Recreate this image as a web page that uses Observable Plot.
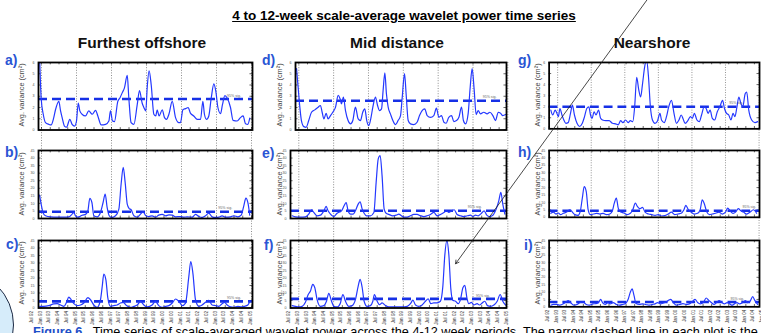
<!DOCTYPE html>
<html><head><meta charset="utf-8">
<script src="https://cdn.jsdelivr.net/npm/d3@7"></script>
<script src="https://cdn.jsdelivr.net/npm/@observablehq/plot@0.6"></script>
<style>
html,body{margin:0;padding:0;background:#fff;}
body{width:761px;height:333px;overflow:hidden;position:relative;font-family:"Liberation Sans",Arial,sans-serif;}
.abs{position:absolute;white-space:nowrap;}
.title{left:0;width:808px;top:8px;text-align:center;font-weight:bold;font-size:13.5px;text-decoration:underline;color:#000;}
.coltitle{font-weight:bold;font-size:15.5px;color:#111;transform:translateX(-50%);top:34px;}
.plabel{font-weight:bold;font-size:14px;line-height:14px;color:#2a55d4;}
.ylab{font-size:7.3px;color:#444;transform:translate(-50%,-50%) rotate(-90deg);}
.caption{left:33px;top:325px;font-size:12.7px;line-height:14px;color:#000;}
.caption b{color:#1e4fc8;}
.circle{left:-98px;top:269px;width:112px;height:112px;border-radius:50%;background:#d6ecfa;border:1px solid #1c2a44;box-sizing:border-box;}
</style></head><body>
<div class="abs circle"></div>
<div class="abs title">4 to 12-week scale-average wavelet power time series</div>
<div class="abs coltitle" style="left:142px">Furthest offshore</div>
<div class="abs coltitle" style="left:397px">Mid distance</div>
<div class="abs coltitle" style="left:652px">Nearshore</div>
<div class="abs caption"><b>Figure 6</b> . Time series of scale-averaged wavelet power across the 4-12 week periods. The narrow dashed line in each plot is the</div>
<div id="root"></div>
<script>
// ---------------- DATA ----------------
const panelIds = ["a","b","c","d","e","f","g","h","i"];
const gridYears = [1993,1995,1997,1999,2001,2003,2005];
const tickYears = [1992.5,1993,1993.5,1994,1994.5,1995,1995.5,1996,1996.5,1997,1997.5,1998,1998.5,1999,1999.5,2000,2000.5,2001,2001.5,2002,2002.5,2003,2003.5,2004,2004.5,2005];
const tickLabels = ["Jul 92","Jan 93","Jul 93","Jan 94","Jul 94","Jan 95","Jul 95","Jan 96","Jul 96","Jan 97","Jul 97","Jan 98","Jul 98","Jan 99","Jul 99","Jan 00","Jul 00","Jan 01","Jul 01","Jan 02","Jul 02","Jan 03","Jul 03","Jan 04","Jul 04","Jan 05"];
const yTicksSmall = [0,1,2,3,4,5,6];
const yTicksLarge = [0,5,10,15,20,25,30,35,40,45];
const yMaxes = [6,45,45,6,45,45,6,45,45];
const sigLevels = [2.75,4.5,4.4,2.6,5.1,6.1,2.0,4.4,3.3];
const sigLabelYears = [2004.0,2003.5,2004.0,2003.95,2003.1,2003.57,2003.43,2004.2,2003.5];
const sigLabel = "95% sig.";
const yLabel = "Avg. variance (cm\u00B2)";
const arrowFrom = [2013.9, 220];
const arrowTo = [2002.0, 29.5];

const panelA = [[1992.89,6.5],[1992.98,2.85],[1993.10,1.4],[1993.23,0.65],[1993.42,0.5],[1993.55,0.45],[1993.70,1.1],[1993.80,1.8],[1993.99,2.55],[1994.09,1.7],[1994.18,1.1],[1994.31,0.35],[1994.43,0.25],[1994.62,0.95],[1994.75,0.5],[1994.89,0.35],[1995.00,0.8],[1995.10,2.4],[1995.19,1.7],[1995.32,1.4],[1995.51,1.25],[1995.70,1.7],[1995.90,1.4],[1996.09,1.75],[1996.22,1.25],[1996.41,0.45],[1996.66,0.5],[1996.85,0.8],[1996.94,1.7],[1997.06,0.8],[1997.17,0.75],[1997.36,2.55],[1997.48,2.85],[1997.61,3.3],[1997.74,3.75],[1997.90,4.85],[1997.99,2.85],[1998.12,0.65],[1998.28,0.5],[1998.47,2.25],[1998.60,3.5],[1998.75,2.4],[1998.85,2.0],[1998.96,1.7],[1999.04,3.75],[1999.15,5.25],[1999.27,4.0],[1999.42,1.4],[1999.53,1.25],[1999.61,1.8],[1999.72,1.25],[1999.90,1.8],[2000.03,1.1],[2000.14,0.95],[2000.28,1.4],[2000.47,2.55],[2000.66,1.1],[2000.85,0.65],[2000.94,0.65],[2001.08,1.8],[2001.23,1.9],[2001.38,2.0],[2001.51,1.5],[2001.70,1.25],[2001.90,0.95],[2002.09,0.95],[2002.22,2.55],[2002.31,1.4],[2002.43,0.95],[2002.56,1.25],[2002.70,2.85],[2002.85,4.1],[2002.96,3.45],[2003.08,2.0],[2003.23,1.45],[2003.34,2.25],[2003.48,3.05],[2003.61,2.85],[2003.80,2.0],[2003.95,0.85],[2004.18,0.8],[2004.37,1.1],[2004.52,1.25],[2004.66,0.55],[2004.79,0.5],[2004.90,1.05]];
const panelB = [[1992.89,15.5],[1992.98,9.5],[1993.10,3.5],[1993.23,1.8],[1993.51,1.1],[1993.90,0.9],[1994.28,0.9],[1994.56,1.1],[1994.75,2.9],[1994.85,4.0],[1994.94,1.8],[1995.08,0.9],[1995.19,1.3],[1995.32,2.2],[1995.51,2.7],[1995.65,5.1],[1995.76,13.3],[1995.88,10.6],[1995.99,1.8],[1996.18,1.1],[1996.37,4.0],[1996.52,10.6],[1996.64,16.2],[1996.75,7.3],[1996.87,1.8],[1997.00,0.7],[1997.23,1.8],[1997.42,6.2],[1997.55,22.8],[1997.67,33.9],[1997.78,23.9],[1997.90,9.5],[1998.01,6.6],[1998.12,5.8],[1998.28,1.8],[1998.47,0.9],[1998.66,2.9],[1998.81,4.4],[1998.96,1.8],[1999.13,1.3],[1999.32,1.8],[1999.51,0.9],[1999.70,2.2],[1999.90,2.7],[2000.09,1.8],[2000.28,2.4],[2000.47,2.2],[2000.66,1.1],[2000.94,1.3],[2001.13,0.9],[2001.32,1.1],[2001.61,0.9],[2001.80,2.7],[2001.99,1.3],[2002.18,0.7],[2002.37,1.8],[2002.56,3.5],[2002.75,1.1],[2002.94,0.7],[2003.13,0.9],[2003.32,1.8],[2003.51,0.9],[2003.80,1.1],[2003.99,1.8],[2004.22,1.1],[2004.41,2.2],[2004.56,8.4],[2004.68,13.5],[2004.79,10.6],[2004.90,2.2]];
const panelC = [[1992.89,1.1],[1993.13,1.1],[1993.42,1.6],[1993.70,2.7],[1993.90,2.9],[1994.09,2.0],[1994.28,1.1],[1994.43,3.8],[1994.56,7.3],[1994.70,5.5],[1994.85,2.9],[1995.04,1.6],[1995.23,2.0],[1995.42,3.3],[1995.65,6.9],[1995.80,5.5],[1995.99,2.0],[1996.18,0.4],[1996.37,5.5],[1996.47,14.4],[1996.56,22.6],[1996.68,18.8],[1996.79,6.7],[1996.94,1.1],[1997.13,1.6],[1997.32,2.0],[1997.51,3.3],[1997.67,3.8],[1997.86,1.6],[1998.09,0.4],[1998.28,1.1],[1998.47,2.0],[1998.66,4.4],[1998.85,2.0],[1999.04,0.7],[1999.32,2.0],[1999.51,4.4],[1999.70,1.6],[1999.90,0.4],[2000.09,1.1],[2000.28,1.6],[2000.47,3.3],[2000.66,6.0],[2000.85,4.4],[2001.04,1.6],[2001.23,3.3],[2001.42,21.1],[2001.53,31.0],[2001.65,23.3],[2001.80,5.5],[2001.99,1.1],[2002.18,2.0],[2002.37,3.8],[2002.56,5.1],[2002.75,2.0],[2002.94,1.6],[2003.13,1.1],[2003.32,2.9],[2003.46,3.8],[2003.61,2.0],[2003.80,0.7],[2003.99,0.4],[2004.22,1.1],[2004.41,0.7],[2004.60,1.1],[2004.79,2.0],[2004.90,4.4]];
const panelD = [[1992.87,5.46],[1992.96,3.82],[1993.06,2.03],[1993.15,0.84],[1993.29,0.3],[1993.42,0.24],[1993.57,0.84],[1993.73,1.58],[1993.92,1.79],[1994.11,2.03],[1994.24,2.18],[1994.34,1.58],[1994.44,0.99],[1994.57,1.49],[1994.68,0.99],[1994.82,1.28],[1994.95,1.58],[1995.11,2.03],[1995.26,3.07],[1995.37,2.78],[1995.45,2.33],[1995.56,2.93],[1995.68,1.73],[1995.83,0.84],[1995.97,0.54],[1996.10,0.84],[1996.25,2.03],[1996.41,0.99],[1996.54,0.84],[1996.67,1.58],[1996.79,1.88],[1996.90,0.84],[1997.02,0.39],[1997.13,0.99],[1997.25,2.03],[1997.40,2.93],[1997.52,2.18],[1997.63,1.73],[1997.75,1.88],[1997.84,3.52],[1997.94,5.07],[1998.03,3.22],[1998.13,2.03],[1998.26,1.43],[1998.40,0.84],[1998.55,0.48],[1998.70,0.84],[1998.84,1.28],[1998.93,2.78],[1999.07,5.01],[1999.16,3.22],[1999.28,0.84],[1999.41,0.54],[1999.60,0.48],[1999.79,0.69],[1999.93,1.28],[2000.08,1.73],[2000.23,1.88],[2000.37,1.28],[2000.56,1.13],[2000.75,1.28],[2000.90,1.94],[2001.04,1.13],[2001.19,1.28],[2001.33,0.69],[2001.46,0.6],[2001.61,1.13],[2001.77,1.28],[2001.90,0.75],[2002.05,0.84],[2002.19,1.13],[2002.34,2.03],[2002.45,0.84],[2002.57,0.54],[2002.72,1.43],[2002.84,3.82],[2002.95,5.46],[2003.07,3.52],[2003.18,1.37],[2003.30,1.73],[2003.43,1.43],[2003.62,1.58],[2003.81,1.43],[2003.97,1.58],[2004.14,1.28],[2004.29,0.84],[2004.45,1.58],[2004.58,1.49],[2004.71,1.28],[2004.87,1.37]];
const panelE = [[1992.62,1.8],[1992.81,1.1],[1993.10,0.9],[1993.38,1.1],[1993.57,2.9],[1993.73,5.8],[1993.86,4.0],[1994.05,1.8],[1994.24,2.2],[1994.44,5.1],[1994.57,8.0],[1994.68,5.1],[1994.88,2.2],[1995.01,1.3],[1995.20,3.5],[1995.45,5.1],[1995.60,8.4],[1995.72,10.6],[1995.83,5.1],[1995.97,2.9],[1996.12,2.9],[1996.25,5.1],[1996.41,9.5],[1996.52,11.1],[1996.64,6.2],[1996.75,3.5],[1996.89,1.8],[1997.11,1.8],[1997.31,4.0],[1997.44,23.9],[1997.56,39.5],[1997.67,41.7],[1997.78,28.4],[1997.90,6.2],[1998.01,3.5],[1998.17,2.7],[1998.40,1.8],[1998.59,2.2],[1998.74,2.9],[1998.89,1.8],[1999.03,0.9],[1999.22,0.9],[1999.41,1.8],[1999.60,2.7],[1999.79,2.7],[1999.99,1.8],[2000.18,1.3],[2000.37,1.8],[2000.56,2.7],[2000.75,4.0],[2000.94,1.8],[2001.13,2.7],[2001.33,4.0],[2001.48,5.1],[2001.61,4.0],[2001.77,5.1],[2001.92,5.8],[2002.09,2.7],[2002.28,1.8],[2002.47,1.3],[2002.67,1.8],[2002.86,2.2],[2002.99,1.3],[2003.14,2.2],[2003.30,1.8],[2003.49,3.5],[2003.64,5.1],[2003.79,2.2],[2003.95,1.3],[2004.14,2.2],[2004.33,6.2],[2004.48,11.7],[2004.60,17.3],[2004.71,9.5],[2004.83,2.9]];
const panelF = [[1992.62,1.6],[1992.81,1.1],[1993.00,0.7],[1993.19,1.1],[1993.38,3.8],[1993.54,9.0],[1993.67,11.3],[1993.80,15.8],[1993.92,13.5],[1994.05,5.6],[1994.24,1.1],[1994.44,1.6],[1994.59,4.5],[1994.72,9.7],[1994.88,4.5],[1995.01,1.1],[1995.20,0.7],[1995.39,3.4],[1995.53,9.0],[1995.68,4.5],[1995.87,1.1],[1996.06,1.6],[1996.25,5.6],[1996.41,14.6],[1996.52,19.1],[1996.64,13.5],[1996.75,4.5],[1996.92,1.1],[1997.11,1.6],[1997.25,4.5],[1997.34,9.0],[1997.50,4.5],[1997.63,2.2],[1997.78,3.4],[1997.98,1.6],[1998.17,0.7],[1998.55,0.7],[1998.93,0.7],[1999.22,1.1],[1999.41,2.9],[1999.55,5.2],[1999.70,2.0],[1999.89,1.1],[2000.08,2.0],[2000.27,4.5],[2000.43,6.1],[2000.58,2.9],[2000.75,3.4],[2000.94,3.4],[2001.13,4.5],[2001.27,14.6],[2001.38,34.9],[2001.50,45],[2001.61,36.0],[2001.73,12.4],[2001.84,5.2],[2002.00,4.5],[2002.15,2.9],[2002.28,5.6],[2002.42,13.5],[2002.53,15.1],[2002.65,6.8],[2002.76,2.9],[2002.91,3.8],[2003.05,2.0],[2003.24,2.9],[2003.37,2.0],[2003.53,3.4],[2003.68,4.5],[2003.83,1.6],[2004.00,1.1],[2004.20,2.0],[2004.39,4.5],[2004.56,9.0],[2004.71,4.5],[2004.87,2.0]];
const panelG = [[1992.60,1.69],[1992.71,1.25],[1992.85,1.69],[1992.94,1.46],[1993.04,1.1],[1993.13,1.84],[1993.25,1.25],[1993.36,0.8],[1993.48,0.5],[1993.61,0.56],[1993.75,1.4],[1993.86,2.14],[1993.98,1.25],[1994.13,0.5],[1994.28,0.21],[1994.44,0.5],[1994.57,1.1],[1994.70,1.84],[1994.82,1.99],[1994.92,1.25],[1995.01,0.95],[1995.13,1.54],[1995.24,1.25],[1995.39,1.69],[1995.51,0.95],[1995.62,0.8],[1995.82,0.74],[1996.01,0.74],[1996.20,0.5],[1996.39,0.45],[1996.54,0.36],[1996.68,0.74],[1996.81,0.56],[1996.97,0.8],[1997.12,0.56],[1997.25,0.74],[1997.39,0.65],[1997.50,1.99],[1997.62,4.66],[1997.73,3.62],[1997.85,2.88],[1997.96,4.07],[1998.08,5.55],[1998.19,6.3],[1998.31,4.66],[1998.42,1.99],[1998.54,0.8],[1998.69,0.5],[1998.84,0.74],[1998.98,1.4],[1999.07,0.8],[1999.23,0.56],[1999.36,1.1],[1999.49,1.99],[1999.65,2.58],[1999.80,1.4],[1999.94,0.5],[2000.09,0.8],[2000.22,1.25],[2000.34,0.86],[2000.45,0.5],[2000.61,0.74],[2000.76,1.1],[2000.87,0.95],[2000.99,1.4],[2001.14,0.8],[2001.28,0.65],[2001.41,1.25],[2001.56,1.99],[2001.68,1.84],[2001.79,1.4],[2001.91,1.69],[2002.04,0.95],[2002.18,0.8],[2002.33,1.54],[2002.48,1.99],[2002.64,2.58],[2002.75,1.84],[2002.87,1.4],[2003.00,1.25],[2003.13,0.8],[2003.25,1.4],[2003.36,1.1],[2003.48,1.99],[2003.59,2.88],[2003.71,2.29],[2003.82,1.99],[2003.96,3.18],[2004.05,3.33],[2004.17,1.69],[2004.34,0.8],[2004.53,0.56],[2004.69,0.65]];
const panelH = [[1992.60,2.7],[1992.75,3.5],[1992.90,2.2],[1993.04,2.9],[1993.17,1.8],[1993.33,2.7],[1993.52,3.5],[1993.71,5.1],[1993.86,3.5],[1994.00,1.8],[1994.19,1.3],[1994.32,4.0],[1994.44,12.9],[1994.55,20.6],[1994.67,17.3],[1994.78,5.1],[1994.90,1.8],[1995.09,2.2],[1995.28,2.7],[1995.47,2.2],[1995.66,2.7],[1995.85,1.8],[1996.05,2.2],[1996.20,4.4],[1996.31,9.5],[1996.43,12.9],[1996.54,6.2],[1996.68,3.5],[1996.87,2.9],[1997.06,1.8],[1997.25,2.7],[1997.39,5.1],[1997.54,9.5],[1997.66,7.3],[1997.81,5.8],[1997.96,6.7],[1998.11,3.5],[1998.31,2.2],[1998.50,1.8],[1998.69,1.3],[1998.88,1.8],[1999.07,0.9],[1999.26,1.1],[1999.46,2.2],[1999.65,3.5],[1999.84,1.8],[2000.03,2.2],[2000.22,2.7],[2000.38,5.1],[2000.49,8.0],[2000.64,5.1],[2000.80,3.5],[2000.99,2.2],[2001.18,2.7],[2001.33,5.1],[2001.45,11.7],[2001.56,9.5],[2001.72,3.5],[2001.87,1.8],[2002.04,2.2],[2002.23,2.7],[2002.43,3.5],[2002.62,2.2],[2002.81,3.5],[2002.94,6.2],[2003.10,4.0],[2003.25,2.7],[2003.40,3.5],[2003.56,5.8],[2003.71,4.4],[2003.86,3.5],[2004.05,2.2],[2004.25,3.5],[2004.44,5.1],[2004.63,2.7]];
const panelI = [[1992.60,1.1],[1992.75,1.6],[1992.94,1.6],[1993.13,1.1],[1993.33,2.0],[1993.48,3.3],[1993.61,4.2],[1993.75,2.9],[1993.94,1.1],[1994.13,1.6],[1994.32,2.9],[1994.48,3.3],[1994.67,1.6],[1994.86,1.1],[1995.05,2.0],[1995.24,2.2],[1995.39,2.9],[1995.51,5.1],[1995.62,2.9],[1995.78,1.6],[1995.93,2.9],[1996.08,2.0],[1996.24,2.9],[1996.43,1.6],[1996.62,1.1],[1996.81,1.6],[1996.97,2.2],[1997.12,5.1],[1997.25,10.0],[1997.35,12.2],[1997.46,7.8],[1997.58,2.2],[1997.77,1.6],[1997.96,2.0],[1998.15,1.6],[1998.34,1.1],[1998.54,1.6],[1998.69,2.0],[1998.84,2.9],[1999.03,2.0],[1999.26,2.9],[1999.46,4.2],[1999.61,5.1],[1999.76,2.9],[1999.94,1.1],[2000.13,1.6],[2000.32,2.2],[2000.51,1.6],[2000.70,2.0],[2000.89,3.8],[2001.03,5.1],[2001.18,2.9],[2001.33,2.0],[2001.52,2.9],[2001.68,6.0],[2001.83,4.4],[2001.98,2.9],[2002.14,1.6],[2002.29,2.9],[2002.44,4.2],[2002.60,2.9],[2002.75,2.0],[2002.90,2.9],[2003.06,2.0],[2003.19,1.1],[2003.33,2.0],[2003.48,2.9],[2003.63,2.0],[2003.82,2.9],[2003.98,4.2],[2004.09,2.9],[2004.25,3.8],[2004.40,6.9],[2004.53,4.2],[2004.69,1.6]];
const panelData = [panelA,panelB,panelC,panelD,panelE,panelF,panelG,panelH,panelI];

// ---------------- LAYOUT ----------------
const colGrid93 = [41.0, 298.3, 557.7];
const colPxPerYear = [17.5, 17.42, 17.4];
const colFrameLeft = [38, 290, 549];
const colFrameRight = [252, 506, 763];
const rowTop = [61.5, 150, 239.5];
const rowBottom = [129, 218, 307];
const panelFrameLeft = [38, 38, 38, 295, 290, 290, 549, 549, 549];
const letterPos = [[5,53],[5,145],[6,237],[262,53],[262,146],[264,238],[518,53],[518,145],[524,238]];
const yLabelX = [21, 279, 537];

const root = document.getElementById("root");
const font = "Liberation Sans, Arial, sans-serif";
function domainFor(col, left, right) {
  return [1993 - (colGrid93[col] - left) / colPxPerYear[col], 1993 + (right - colGrid93[col]) / colPxPerYear[col]];
}
function place(el, left, top, z) {
  const d = document.createElement("div");
  d.style.position = "absolute"; d.style.left = left + "px"; d.style.top = top + "px";
  if (z) d.style.zIndex = z;
  d.appendChild(el); root.appendChild(d); return d;
}

// column background gridlines
for (let c = 0; c < 3; c++) {
  const pad = 6;
  const W = colFrameRight[c] - colFrameLeft[c] + 2 * pad;
  const H = rowBottom[2] - rowTop[0];
  const svg = Plot.plot({
    width: W, height: H, marginLeft: pad, marginRight: pad, marginTop: 0, marginBottom: 0,
    x: {domain: domainFor(c, colFrameLeft[c], colFrameRight[c]), axis: null},
    y: {domain: [0, 1], axis: null},
    style: {background: "transparent", overflow: "visible"},
    marks: [Plot.ruleX(gridYears, {stroke: "#707070", strokeWidth: 0.8, strokeDasharray: "1,1.6"})]
  });
  place(svg, colFrameLeft[c] - pad, rowTop[0], 1);
}

// panels
panelIds.forEach((id, k) => {
  const col = Math.floor(k / 3), row = k % 3;
  const left = panelFrameLeft[k], right = colFrameRight[col];
  const top = rowTop[row], bottom = rowBottom[row];
  const mL = 22, mR = 2, mT = 2, mB = row === 2 ? 20 : 2;
  const W = right - left + mL + mR, H = bottom - top + mT + mB;
  const [x0, x1] = domainFor(col, left, right);
  const ymax = yMaxes[k];
  const yTicks = ymax === 6 ? yTicksSmall : yTicksLarge;
  const inDom = tickYears.filter(t => t >= x0 && t <= x1);
  const dx = (x1 - x0) * 0.012, dy = ymax * 0.035;
  const marks = [
    Plot.ruleX(inDom, {y1: 0, y2: dy, stroke: "#000", strokeWidth: 0.6}),
    Plot.ruleX(inDom, {y1: ymax - dy, y2: ymax, stroke: "#000", strokeWidth: 0.6}),
    Plot.ruleY(yTicks, {x1: x0, x2: x0 + dx, stroke: "#000", strokeWidth: 0.6}),
    Plot.ruleY(yTicks, {x1: x1 - dx, x2: x1, stroke: "#000", strokeWidth: 0.6}),
    Plot.axisY(yTicks, {tickSize: 0, tickPadding: 4, fontSize: 3.6, fill: "#555", label: null}),
    Plot.ruleY([sigLevels[k]], {stroke: "#1630e6", strokeWidth: 2.6, strokeDasharray: "9,5"}),
    Plot.line(panelData[k], {x: d => d[0], y: d => d[1], stroke: "#2438ff", strokeWidth: 1.2, curve: "monotone-x", clip: true}),
    Plot.text([sigLabel], {x: sigLabelYears[k], y: sigLevels[k], text: d => d, dy: -3.5, fontSize: 3.6, fill: "#666"}),
    Plot.frame({stroke: "#000", strokeWidth: 1.8})
  ];
  if (row === 2) {
    marks.push(Plot.text(tickYears.map((t, i) => i), {
      x: i => tickYears[i], text: i => tickLabels[i], frameAnchor: "bottom",
      rotate: -90, textAnchor: "end", dy: 3, fontSize: 4.6, fill: "#333"
    }));
  }
  if (id === "f") {
    marks.push(Plot.arrow([0], {x1: arrowFrom[0], y1: arrowFrom[1], x2: arrowTo[0], y2: arrowTo[1],
      stroke: "#1a1a1a", strokeWidth: 0.8, headLength: 7}));
  }
  const svg = Plot.plot({
    width: W, height: H, marginLeft: mL, marginRight: mR, marginTop: mT, marginBottom: mB,
    x: {domain: [x0, x1], axis: null},
    y: {domain: [0, ymax], axis: null},
    style: {background: "transparent", overflow: "visible", fontFamily: font},
    marks
  });
  place(svg, left - mL, top - mT, id === "f" ? 20 : 2);

  const lab = document.createElement("div");
  lab.className = "plabel"; lab.textContent = id + ")";
  place(lab, letterPos[k][0], letterPos[k][1], 5);
  const yl = document.createElement("div");
  yl.className = "ylab"; yl.textContent = yLabel;
  place(yl, yLabelX[col], (top + bottom) / 2, 5);
});
</script>
</body></html>
